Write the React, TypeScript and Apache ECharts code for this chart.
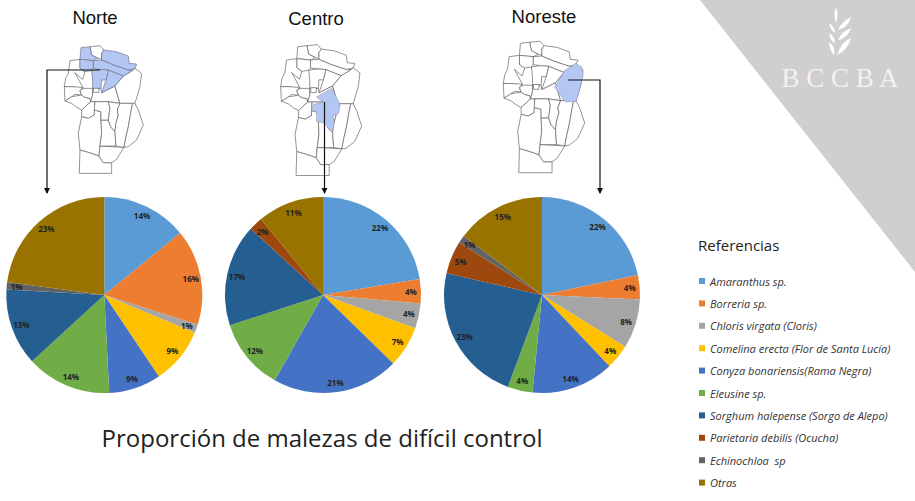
import React, { useEffect, useRef } from "react";
import * as echarts from "echarts";

const categories = [
  "Amaranthus sp.",
  "Borreria sp.",
  "Chloris virgata (Cloris)",
  "Comelina erecta (Flor de Santa Lucía)",
  "Conyza bonariensis(Rama Negra)",
  "Eleusine sp.",
  "Sorghum halepense (Sorgo de Alepo)",
  "Parietaria debilis (Ocucha)",
  "Echinochloa  sp",
  "Otras",
];
const colors = ["#5B9BD5", "#ED7D31", "#A5A5A5", "#FFC000", "#4472C4", "#70AD47", "#255E91", "#9E480E", "#636363", "#997300"];
const norte = [14.1, 15.8, 1.4, 9.3, 8.6, 14, 12.7, 0, 1.2, 22.9];
const centro = [22.4, 4, 4.1, 6.8, 20.9, 11.8, 16.8, 2.3, 0, 10.9];
const noreste = [21.7, 4, 8.1, 4.1, 13.6, 4.1, 22.9, 5.4, 1.3, 14.7];

const regions = [
  { title: "Norte", values: norte, cx: 104.3, cy: 295, titleX: 95, titleY: 17 },
  { title: "Centro", values: centro, cx: 323, cy: 295, titleX: 316, titleY: 18 },
  { title: "Noreste", values: noreste, cx: 542, cy: 295, titleX: 544, titleY: 16 },
];

type P = number[][];
const districts: P[] = [
  [[270,140],[300,137],[312,150],[305,160],[305,178],[295,175],[275,165]],
  [[243,143],[270,140],[275,165],[295,175],[280,182],[240,178]],
  [[312,150],[350,155],[385,168],[388,190],[410,192],[405,205],[385,210],[340,195],[305,180],[305,160]],
  [[280,182],[305,180],[340,195],[385,210],[400,210],[370,228],[325,210],[300,208],[280,205]],
  [[240,178],[280,182],[280,205],[275,212],[255,215],[240,205]],
  [[325,210],[370,228],[345,258],[305,278],[318,240]],
  [[275,212],[300,208],[325,210],[318,240],[305,240],[303,265],[278,265],[278,240]],
  [[210,182],[240,178],[240,205],[255,215],[248,238],[232,225],[225,218],[250,265],[215,260],[193,260],[197,235],[205,220]],
  [[193,260],[215,260],[248,262],[240,272],[245,285],[225,283],[215,290],[195,303]],
  [[195,303],[215,290],[245,285],[255,292],[270,295],[272,305],[245,330],[230,322],[215,310]],
  [[250,265],[278,265],[278,285],[272,305],[270,295],[255,292],[245,285],[240,272]],
  [[278,265],[303,265],[305,278],[345,258],[360,310],[325,305],[285,305],[272,305],[278,285]],
  [[405,205],[425,220],[420,260],[405,310],[360,310],[345,258],[370,228],[400,210]],
  [[245,330],[272,305],[285,305],[283,345],[265,355],[245,350]],
  [[245,350],[265,355],[283,345],[283,330],[303,335],[303,360],[305,400],[300,438],[297,468],[268,458],[240,450],[235,400]],
  [[240,450],[268,458],[297,468],[310,488],[335,488],[335,520],[238,520]],
  [[300,438],[372,442],[350,478],[335,488],[310,488],[297,468]],
  [[303,360],[325,360],[332,380],[345,395],[348,438],[300,438],[305,400]],
  [[285,305],[325,305],[330,325],[325,360],[303,360],[303,335],[283,330]],
  [[325,305],[360,310],[352,330],[355,345],[348,370],[345,395],[332,380],[325,360],[330,325]],
  [[360,310],[398,310],[392,340],[385,380],[378,410],[372,442],[348,438],[345,395],[348,370],[355,345],[352,330]],
  [[398,310],[405,310],[415,330],[430,375],[410,420],[385,440],[372,442],[378,410],[385,380],[392,340]],
  [[281,263],[297,263],[297,277],[281,277]],
];
const norteHighlight = [1, 2, 3, 4, 5, 6];
const centroBlue: P = [[[298,290],[342,265],[365,308],[367,315],[362,339],[347,344],[349,378],[337,390],[323,368],[298,361],[298,334],[282,329],[289,312],[318,305]]];
const noresteBlue: P = [[[402,201],[421,211],[426,235],[416,274],[405,313],[373,313],[343,271],[373,221],[392,211]]];

const wheatLeaves = [
  "M836 7 Q833 15 836 23 Q839 15 836 7Z",
  "M829 23 Q830 30 835 33 Q835 27 829 23Z",
  "M851 17 Q842 21 838 30 Q848 28 851 17Z",
  "M829 33 Q830 41 835 43 Q835 37 829 33Z",
  "M851 28 Q842 31 838 40 Q848 38 851 28Z",
  "M829 42 Q830 51 834 55 Q836 47 829 42Z",
  "M851 38 Q842 41 837 55 Q848 50 851 38Z",
].join(" ");

const MAP_X0 = 193;
const MAP_Y0 = 143;
const BLUE = "#B4C7F4";
function mapShapes(left: number, top: number, s: number, blueIdx: number[], extra: P[]) {
  const tr = (p: P) => p.map(([x, y]) => [left + ((x - MAP_X0) / 3) * s, top + ((y - MAP_Y0) / 3) * s]);
  const out: any[] = [];
  districts.forEach((d, i) => {
    if (blueIdx.includes(i)) return;
    out.push({ type: "polygon", shape: { points: tr(d) }, style: { fill: "#fff", stroke: "#666", lineWidth: 0.7 } });
  });
  blueIdx.forEach((i) => {
    out.push({ type: "polygon", shape: { points: tr(districts[i]) }, style: { fill: BLUE, stroke: "#667", lineWidth: 0.6 } });
  });
  extra.forEach((d) => {
    out.push({ type: "polygon", shape: { points: tr(d) }, style: { fill: BLUE, stroke: "#889", lineWidth: 0.5 } });
  });
  return out;
}

function arrow(points: number[][]) {
  const [x, y] = points[points.length - 1];
  return [
    { type: "polyline", shape: { points }, style: { fill: "none", stroke: "#111", lineWidth: 1.2 } },
    { type: "polygon", shape: { points: [[x - 3, y - 5], [x + 3, y - 5], [x, y + 1]] }, style: { fill: "#111" } },
  ];
}

export default function App() {
  const ref = useRef<HTMLDivElement>(null);
  useEffect(() => {
    document.body.style.margin = "0";
    echarts.graphic.registerShape("wheat", echarts.graphic.extendPath(wheatLeaves as any, {}) as any);
    const chart = echarts.init(ref.current!, null, { renderer: "svg" });
    const dataOf = (vals: number[], clear: boolean) =>
      categories
        .map((name, i) => ({ name, value: vals[i], itemStyle: { color: clear ? "rgba(0,0,0,0)" : colors[i] } }))
        .filter((d) => d.value > 0);
    const solid = regions.map((r) => ({
      type: "pie",
      name: r.title,
      center: [r.cx, r.cy],
      radius: [0, 98],
      startAngle: 90,
      clockwise: true,
      silent: true,
      avoidLabelOverlap: false,
      label: { show: false },
      labelLine: { show: false },
      emphasis: { disabled: true },
      data: dataOf(r.values, false),
    }));
    const labels = regions.map((r) => ({
      type: "pie",
      name: r.title + " %",
      center: [r.cx, r.cy],
      radius: [72, 98],
      startAngle: 90,
      clockwise: true,
      silent: true,
      avoidLabelOverlap: false,
      label: {
        show: true,
        position: "inside",
        formatter: (p: any) => `${Math.round(p.value)}%`,
        fontFamily: "Open Sans",
        fontSize: 8,
        fontWeight: "bold",
        color: "#222",
      },
      labelLine: { show: false },
      emphasis: { disabled: true },
      data: dataOf(r.values, true),
    }));
    chart.setOption({
      animation: false,
      backgroundColor: "#fff",
      legend: {
        orient: "vertical",
        left: 699,
        top: 275,
        padding: 0,
        data: categories,
        icon: "rect",
        itemWidth: 6,
        itemHeight: 6,
        itemGap: 10.4,
        selectedMode: false,
        textStyle: {
          fontFamily: "Open Sans",
          fontStyle: "italic",
          fontSize: 11,
          color: "#333",
          lineHeight: 12,
          height: 12,
        },
      },
      graphic: [
        {
          type: "polygon",
          z: -1,
          shape: { points: [[700, 0], [915, 0], [915, 272]] },
          style: { fill: "#D0CECE" },
        },
        { type: "wheat", style: { fill: "#fff" } },
        {
          type: "text",
          x: 840,
          y: 78,
          style: {
            text: "B C C B A",
            fontFamily: "Liberation Serif",
            fontSize: 27,
            fill: "rgba(255,255,255,0.75)",
            align: "center",
            verticalAlign: "middle",
          },
        },
        ...regions.map((r) => ({
          type: "text",
          x: r.titleX,
          y: r.titleY,
          style: {
            text: r.title,
            fontFamily: "Liberation Sans",
            fontSize: 18.5,
            fill: "#111",
            align: "center",
            verticalAlign: "middle",
          },
        })),
        ...mapShapes(64.3, 47.7, 1, norteHighlight, []),
        ...mapShapes(280.7, 46.7, 1.025, [], centroBlue),
        ...mapShapes(503.3, 43.3, 1.03, [], noresteBlue),
        ...arrow([[100, 70], [47, 70], [47, 193]]),
        ...arrow([[324.5, 102], [324.5, 193]]),
        ...arrow([[568, 80], [600, 80], [600, 193]]),
        {
          type: "text",
          x: 322,
          y: 437,
          style: {
            text: "Proporción de malezas de difícil control",
            fontFamily: "Open Sans",
            fontSize: 24,
            fill: "#222",
            align: "center",
            verticalAlign: "middle",
          },
        },
        {
          type: "text",
          x: 698,
          y: 244.5,
          style: {
            text: "Referencias",
            fontFamily: "Open Sans",
            fontSize: 15,
            fill: "#222",
            align: "left",
            verticalAlign: "middle",
          },
        },
      ],
      series: [...solid, ...labels],
    });
    return () => chart.dispose();
  }, []);
  return <div ref={ref} style={{ width: 915, height: 501, position: "absolute", left: 0, top: 0 }} />;
}
